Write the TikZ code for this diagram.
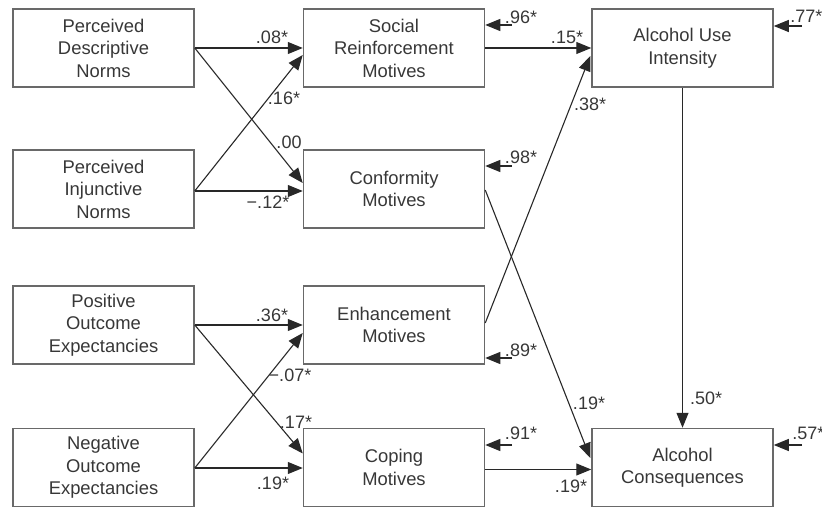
\documentclass[tikz,border=0pt]{standalone}
\usepackage{fontspec}
\setmainfont{Liberation Sans}
\usetikzlibrary{arrows.meta,calc}
\definecolor{txtc}{RGB}{55,55,55}
\definecolor{linec}{RGB}{40,40,40}
\definecolor{boxc}{RGB}{105,105,105}
\begin{document}
\begin{tikzpicture}[x=0.5pt,y=-0.5pt,
  box/.style={draw=boxc,line width=0.75pt,rectangle,minimum width=90.5pt,minimum height=39pt,
    align=center,text=txtc,font=\fontsize{9.2}{11.25}\selectfont,inner sep=0pt},
  path/.style={draw=linec,line width=0.55pt,-{Triangle[length=7.5pt,width=6pt]}},
  coef/.style={text=txtc,font=\fontsize{9}{10}\selectfont,inner sep=0pt}]
\useasboundingbox (0,0) rectangle (822,507);
% boxes
\node[box] (pdn) at (103.5,48) {Perceived\\Descriptive\\Norms};
\node[box] (pin) at (103.5,189) {Perceived\\Injunctive\\Norms};
\node[box] (poe) at (103.5,325) {Positive\\Outcome\\Expectancies};
\node[box] (noe) at (103.5,467.5) {Negative\\Outcome\\Expectancies};
\node[box] (srm) at (394,48) {Social\\Reinforcement\\Motives};
\node[box] (con) at (394,189) {Conformity\\Motives};
\node[box] (enh) at (394,325) {Enhancement\\Motives};
\node[box] (cop) at (394,467.5) {Coping\\Motives};
\node[box] (aui) at (682.5,48) {Alcohol Use\\Intensity};
\node[box] (ac) at (682.5,467.5) {Alcohol\\Consequences};
% paths top-left
\draw[path] (pdn.east) -- (srm.west);
\draw[path] (pdn.east) -- ($(con.west)+(0,-6)$);
\draw[path] ($(pin.east)+(0,2)$) -- ($(con.west)+(0,2)$);
\draw[path] ($(pin.east)+(0,2)$) -- ($(srm.west)+(0,7)$);
% paths bottom-left
\draw[path] (poe.east) -- (enh.west);
\draw[path] (poe.east) -- ($(cop.west)+(0,-14)$);
\draw[path] ($(noe.east)+(0,0.5)$) -- ($(cop.west)+(0,0.5)$);
\draw[path] ($(noe.east)+(0,0.5)$) -- ($(enh.west)+(0,8)$);
% paths right
\draw[path] (srm.east) -- (aui.west);
\draw[path] ($(enh.east)+(0,-2)$) -- ($(aui.west)+(-1,8)$);
\draw[path] ($(con.east)+(0,1)$) -- ($(ac.west)+(-1,-9.5)$);
\draw[path] ($(cop.east)+(0,2)$) -- ($(ac.west)+(0,2)$);
\draw[path] (aui.south) -- (ac.north);
% residuals
\coordinate (r1) at (512,25);
\coordinate (r2) at (512,166);
\coordinate (r3) at (512,358);
\coordinate (r4) at (512,445);
\coordinate (r5) at (802,26);
\coordinate (r6) at (802,445);
\draw[path] (r1) -- (srm.east |- r1);
\draw[path] (r2) -- (con.east |- r2);
\draw[path] (r3) -- (enh.east |- r3);
\draw[path] (r4) -- (cop.east |- r4);
\draw[path] (r5) -- (aui.east |- r5);
\draw[path] (r6) -- (ac.east |- r6);
% coefficients
\node[coef] (c1) at (272,37) {.08*};
\node[coef] (c2) at (284,98) {.16*};
\node[coef] (c3) at (289,142) {.00};
\node[coef] (c4) at (268,202) {−.12*};
\node[coef] (c5) at (567,37) {.15*};
\node[coef] (c6) at (590,104) {.38*};
\node[coef] (c7) at (272,315) {.36*};
\node[coef] (c8) at (290,375) {−.07*};
\node[coef] (c9) at (296,422) {.17*};
\node[coef] (c10) at (273,483) {.19*};
\node[coef] (c11) at (589,403) {.19*};
\node[coef] (c12) at (706,398) {.50*};
\node[coef] (c13) at (571,486) {.19*};
\node[coef] (e1) at (521,17) {.96*};
\node[coef] (e2) at (521,157) {.98*};
\node[coef] (e3) at (521,350) {.89*};
\node[coef] (e4) at (521,433) {.91*};
\node[coef,anchor=west] (e5) at (790,16) {.77*};
\node[coef,anchor=west] (e6) at (792,433) {.57*};
\end{tikzpicture}
\end{document}
